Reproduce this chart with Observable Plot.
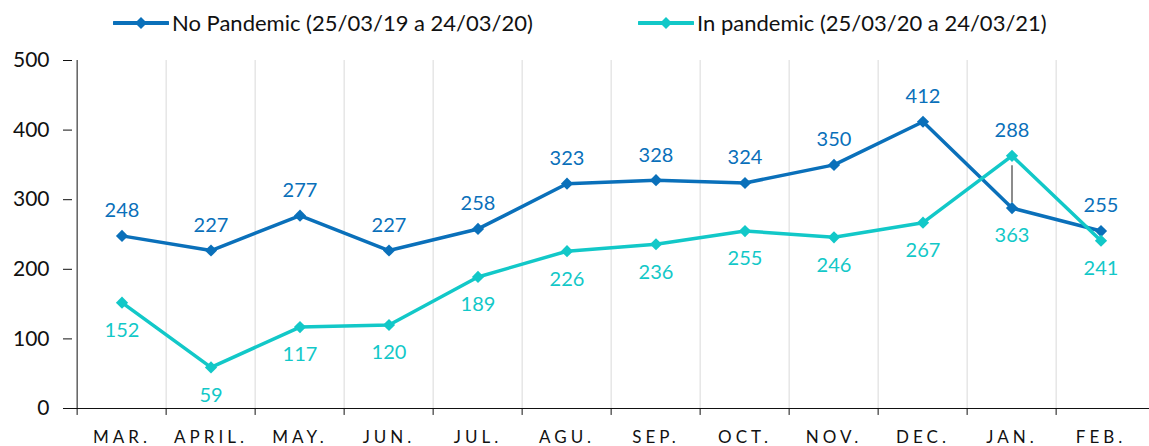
<!DOCTYPE html>
<html><head><meta charset="utf-8">
<script src="https://cdn.jsdelivr.net/npm/d3@7"></script>
<script src="https://cdn.jsdelivr.net/npm/@observablehq/plot@0.6"></script>
<style>
body{margin:0;background:#fff;font-family:Lato,"Open Sans",sans-serif;}
#legend{position:relative;height:45px;width:1149px;}
.item{position:absolute;top:9px;display:flex;align-items:center;font-size:22px;color:#111;}
.item svg{margin-right:3px;}
#chart svg [aria-label="x-axis tick label"] text{letter-spacing:4px;font-size:17px;}
#chart svg [aria-label="y-axis tick label"]{font-size:21px;}
#chart svg [aria-label="y-axis tick label"] text{font-size:21px;}
</style></head>
<body>
<div id="legend"></div>
<div id="chart"></div>
<script>
const months = ["MAR.","APRIL.","MAY.","JUN.","JUL.","AGU.","SEP.","OCT.","NOV.","DEC.","JAN.","FEB."];
const noPandemic = [248,227,277,227,258,323,328,324,350,412,288,255];
const inPandemic = [152,59,117,120,189,226,236,255,246,267,363,241];
const seriesNames = ["No Pandemic (25/03/19 a 24/03/20)","In pandemic (25/03/20 a 24/03/21)"];
const colors = ["#0A70BA","#12C8C8"];
const yTicks = [0,100,200,300,400,500];

const blue = months.map((m,i)=>({m, v:noPandemic[i]}));
const cyan = months.map((m,i)=>({m, v:inPandemic[i]}));
// Jan labels are swapped in the original picture
const blueLab = months.map((m,i)=>({m, label:noPandemic[i], y: m==="JAN." ? inPandemic[i] : noPandemic[i]}));
const cyanLab = months.map((m,i)=>({m, label:inPandemic[i], y: m==="JAN." ? noPandemic[i] : inPandemic[i]}));
const leader = [{m:"JAN.", y1:noPandemic[10], y2:inPandemic[10]}];

// legend
const leg = d3.select("#legend");
const lx = [113, 638];
seriesNames.forEach((name,i)=>{
  const it = leg.append("div").attr("class","item").style("left", lx[i]+"px");
  const s = it.append("svg").attr("width",56).attr("height",14);
  s.append("line").attr("x1",1).attr("x2",55).attr("y1",7).attr("y2",7).attr("stroke",colors[i]).attr("stroke-width",4).attr("stroke-linecap","round");
  s.append("path").attr("d","M28,1L34,7L28,13L22,7Z").attr("fill",colors[i]);
  it.append("span").text(name);
});

const half = (1149 - 72) / months.length / 2;
const plot = Plot.plot({
  width: 1149,
  height: 401,
  marginLeft: 72,
  marginRight: 0,
  marginTop: 15,
  marginBottom: 38,
  style: {fontFamily: "Lato, 'Open Sans', sans-serif", background: "#fff", color: "#111"},
  x: {type: "band", domain: months, padding: 0, label: null},
  y: {type: "linear", domain: [0,500], ticks: yTicks, label: null},
  marks: [
    // vertical gridlines at band edges
    Plot.ruleX(months.slice(1), {x: d=>d, dx: -half, stroke: "#d9d9d9", strokeWidth: 1, y1: 0, y2: 500}),
    Plot.axisY({ticks: yTicks, tickSize: 9, tickPadding: 14, fontSize: 21, label: null, stroke: "#111"}),
    Plot.ruleX(months.slice(0,1), {x: d=>d, dx: -half, y1: 0, y2: 500, stroke: "#111"}),
    Plot.ruleY([0], {stroke: "#111"}),
    // x ticks at band edges
    Plot.ruleX(months, {x: d=>d, dx: -half, y1: 0, y2: -10, stroke: "#111"}),
    Plot.axisX({tickSize: 0, tickPadding: 22, label: null}),
    Plot.ruleX(leader, {x: "m", y1: "y1", y2: "y2", stroke: "#8c8c8c", strokeWidth: 2, insetTop: -5, insetBottom: -10}),
    Plot.line(blue, {x: "m", y: "v", stroke: colors[0], strokeWidth: 3.5}),
    Plot.line(cyan, {x: "m", y: "v", stroke: colors[1], strokeWidth: 3.5}),
    Plot.dot(blue, {x: "m", y: "v", symbol: "diamond2", r: 5.5, fill: colors[0]}),
    Plot.dot(cyan, {x: "m", y: "v", symbol: "diamond2", r: 5.5, fill: colors[1]}),
    Plot.text(blueLab, {x: "m", y: "y", text: "label", dy: -25, fill: colors[0], fontSize: 20}),
    Plot.text(cyanLab, {x: "m", y: "y", text: "label", dy: 28, fill: colors[1], fontSize: 20})
  ]
});
document.getElementById("chart").append(plot);
</script>
</body></html>
